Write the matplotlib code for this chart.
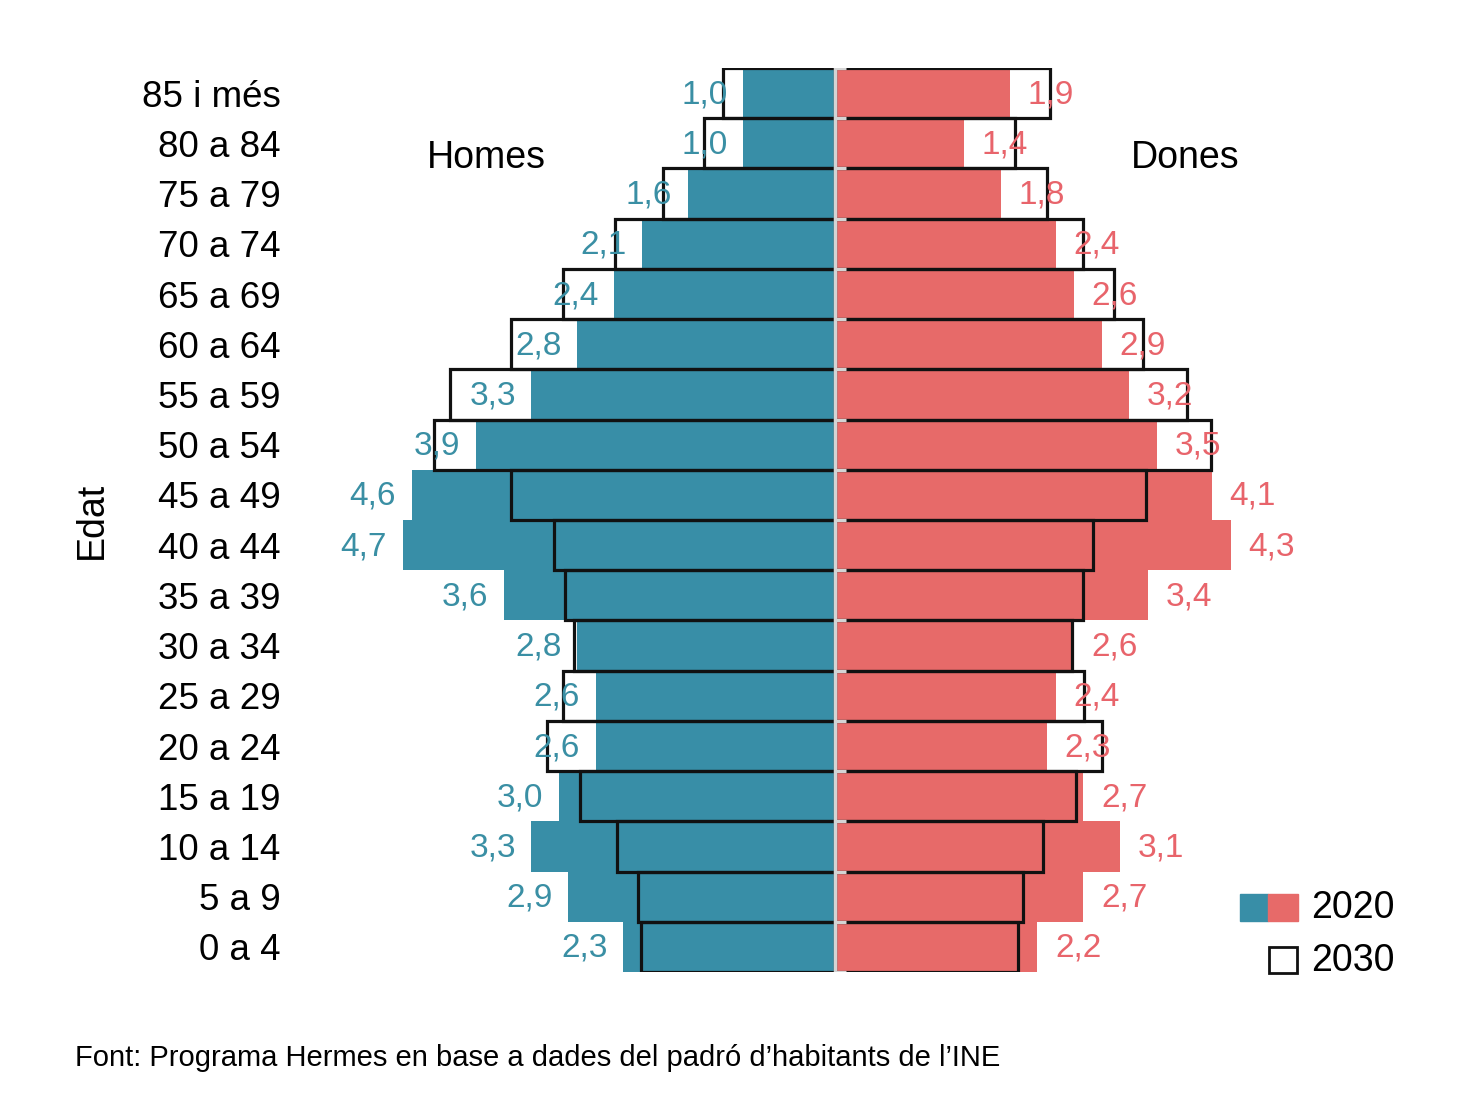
import numpy as np
import matplotlib
matplotlib.use("Agg")
import matplotlib.pyplot as plt
from matplotlib.patches import Rectangle

plt.rcParams['font.family'] = ['Liberation Sans', 'DejaVu Sans']

# Grups d'edat (de dalt a baix)
edats = ['85 i més', '80 a 84', '75 a 79', '70 a 74', '65 a 69', '60 a 64',
         '55 a 59', '50 a 54', '45 a 49', '40 a 44', '35 a 39', '30 a 34',
         '25 a 29', '20 a 24', '15 a 19', '10 a 14', '5 a 9', '0 a 4']

# Percentatges 2020
homes_2020 = [1.0, 1.0, 1.6, 2.1, 2.4, 2.8, 3.3, 3.9, 4.6, 4.7, 3.6, 2.8,
              2.6, 2.6, 3.0, 3.3, 2.9, 2.3]
dones_2020 = [1.9, 1.4, 1.8, 2.4, 2.6, 2.9, 3.2, 3.5, 4.1, 4.3, 3.4, 2.6,
              2.4, 2.3, 2.7, 3.1, 2.7, 2.2]

# Projeccions 2030 (llegides del gràfic)
homes_2030 = [1.22, 1.42, 1.87, 2.39, 2.96, 3.52, 4.18, 4.36, 3.52, 3.05,
              2.93, 2.84, 2.96, 3.13, 2.77, 2.37, 2.14, 2.11]
dones_2030 = [2.34, 1.96, 2.30, 2.70, 3.03, 3.35, 3.83, 4.09, 3.38, 2.80,
              2.70, 2.58, 2.71, 2.90, 2.62, 2.26, 2.04, 1.99]

color_h = '#388ea7'
color_d = '#e76a69'
text_h = '#3a8fa4'
text_d = '#e8646b'

W, H = 1464, 1116
fig = plt.figure(figsize=(W / 100, H / 100), dpi=100)

# eixos en píxels: x 300..1370, y 68..972
ax = fig.add_axes([300 / W, 1 - 972 / H, 1070 / W, 904 / H])
scale = 92.0
ax.set_xlim(-535 / scale, 535 / scale)

n = len(edats)
y = np.arange(n)[::-1]
ax.set_ylim(-0.5, n - 0.5)

# barres 2020
ax.barh(y, -np.array(homes_2020), height=1.0, color=color_h, zorder=1)
ax.barh(y, dones_2020, height=1.0, color=color_d, zorder=1)

# contorns 2030
ax.barh(y, -np.array(homes_2030), height=1.0, fill=False,
        edgecolor='#111111', linewidth=2.3, zorder=2)
ax.barh(y, dones_2030, height=1.0, fill=False,
        edgecolor='#111111', linewidth=2.3, zorder=2)

# línia central
ax.axvline(0, color='#d4d4d4', linewidth=2.5, zorder=3)
ax.hlines(np.arange(n + 1) - 0.5, 0, 0.12, color='#d4d4d4', linewidth=2.3, zorder=3)

# etiquetes de valors
for yi, v in zip(y, homes_2020):
    ax.text(-(v + 0.17), yi - 0.03, f'{v:.1f}'.replace('.', ','), ha='right', va='center',
            fontsize=24, color=text_h, zorder=4)
for yi, v in zip(y, dones_2020):
    ax.text(v + 0.19, yi - 0.03, f'{v:.1f}'.replace('.', ','), ha='left', va='center',
            fontsize=24, color=text_d, zorder=4)

ax.set_yticks(y)
ax.set_yticklabels(edats, fontsize=26.5)
ax.tick_params(axis='y', length=0, pad=14)
ax.set_xticks([])
for s in ax.spines.values():
    s.set_visible(False)

fig.text(92 / W, 1 - 520 / H, 'Edat', rotation=90, ha='center', va='center', fontsize=27)
fig.text(486 / W, 1 - 158 / H, 'Homes', ha='center', va='center', fontsize=27)
fig.text(1185 / W, 1 - 158 / H, 'Dones', ha='center', va='center', fontsize=27)

# llegenda
fig.add_artist(Rectangle((1240 / W, 1 - 921 / H), 28 / W, 27 / H,
                         transform=fig.transFigure, color=color_h))
fig.add_artist(Rectangle((1268 / W, 1 - 921 / H), 30 / W, 27 / H,
                         transform=fig.transFigure, color=color_d))
fig.add_artist(Rectangle((1269 / W, 1 - 973 / H), 28 / W, 26 / H,
                         transform=fig.transFigure, fill=False,
                         edgecolor='#111111', linewidth=2))
fig.text(1311 / W, 1 - 908 / H, '2020', ha='left', va='center', fontsize=27)
fig.text(1311 / W, 1 - 961 / H, '2030', ha='left', va='center', fontsize=27)

fig.text(75 / W, 1 - 1058 / H,
         'Font: Programa Hermes en base a dades del padró d\u2019habitants de l\u2019INE',
         ha='left', va='center', fontsize=21)

fig.savefig('out.png', dpi=100, facecolor='white')
